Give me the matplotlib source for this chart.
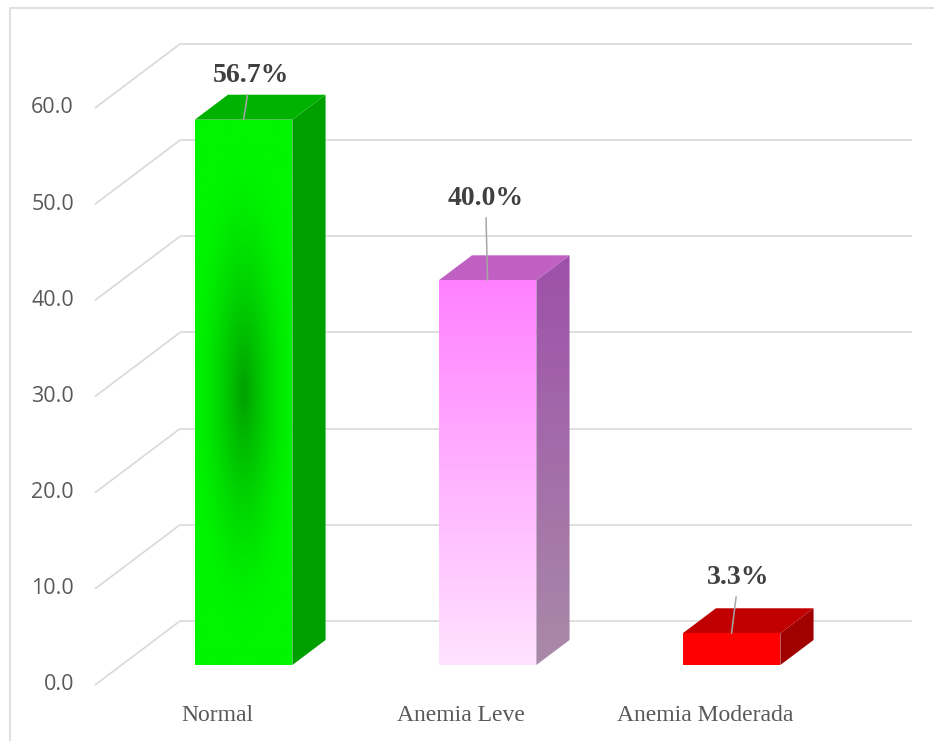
#!/usr/bin/env python3
"""
Distribucion de anemia - columnas 3D (estilo Excel) dibujadas con matplotlib.
"""

import numpy as np
import matplotlib
matplotlib.use("Agg")
import matplotlib.pyplot as plt
from matplotlib.patches import Polygon
from matplotlib.lines import Line2D

# ---------------- DATA ----------------
categories = ["Normal", "Anemia Leve", "Anemia Moderada"]
percentages = [56.7, 40.0, 3.3]
y_ticks = [0, 10, 20, 30, 40, 50, 60]
y_tick_labels = ["0.0", "10.0", "20.0", "30.0", "40.0", "50.0", "60.0"]
# --------------------------------------

# ---------------- STYLE / GEOMETRY ----------------
W, H, DPI = 934, 741, 100
PX_PER_CAT = 244.0          # horizontal pixels per category
PX_PER_VAL = 9.617          # vertical pixels per value unit
X0_PX, Y0_PX = 217.0, 685.0  # pixel position of category 0 / value 0 (front plane)

DEPTH_DX = 85 / PX_PER_CAT   # full-depth oblique shift (category units)
DEPTH_DY = 64 / PX_PER_VAL   # full-depth oblique shift (value units)
BAR_Z0, BAR_Z1 = 0.3125, 0.703  # bar front / back depth
BAR_HALF = 0.2

GRID = "#D9D9D9"
TEXT_GRAY = "#595959"
LABEL_GRAY = "#404040"
LEADER = "#A6A6A6"

# face colours per bar: (front, side, top); tuples mean a top->bottom gradient
face_colors = [
    {"front": "radial_green", "side": "#009F00", "top": "#00B200"},
    {"front": ("#FF80FF", "#FFE2FF"), "side": ("#9E50AA", "#A98AA8"), "top": "#C060C2"},
    {"front": "#FF0000", "side": "#A00000", "top": "#C00000"},
]
# manual data label placement (pixels relative to bar top)
label_offsets = [(7, 44), (-2, 82), (7, 56)]
# --------------------------------------------------


def proj(x, v, z):
    """Oblique projection: depth z in [0, 1] shifts right and up."""
    return x + z * DEPTH_DX, v + z * DEPTH_DY


def hex_rgb(c):
    return np.array(matplotlib.colors.to_rgb(c))


def gradient_fill(ax, poly, extent, img, zorder):
    ax.add_patch(poly)
    im = ax.imshow(img, extent=extent, origin="upper", aspect="auto",
                   interpolation="bilinear", zorder=zorder)
    im.set_clip_path(poly)


def vertical_gradient(c_top, c_bot, n=200):
    c_top, c_bot = hex_rgb(c_top), hex_rgb(c_bot)
    t = np.linspace(0, 1, n)[:, None, None]
    return np.repeat(c_top + (c_bot - c_top) * t, 2, axis=1)


fig = plt.figure(figsize=(W / DPI, H / DPI), dpi=DPI)
ax = fig.add_axes([0, 0, 1, 1])
ax.set_xlim(-X0_PX / PX_PER_CAT, (W - X0_PX) / PX_PER_CAT)
ax.set_ylim((Y0_PX - H) / PX_PER_VAL, Y0_PX / PX_PER_VAL)
ax.axis("off")

# chart area border (top and left edges visible)
fig.add_artist(Line2D([10 / W, 10 / W, 1.0], [0.0, 1 - 8 / H, 1 - 8 / H],
                      transform=fig.transFigure, color=GRID, lw=1.2))

# walls: diagonal side-wall lines and horizontal back-wall lines
x_left, x_right = -0.5, len(categories) - 0.5
for v in y_ticks:
    bx, bv = proj(x_left, v, 1.0)
    ax.plot([x_left, bx], [v, bv], color=GRID, lw=1.2, zorder=1,
            solid_capstyle="butt")
    ex, _ = proj(x_right, v, 1.0)
    ax.plot([bx, ex], [bv, bv], color=GRID, lw=1.2, zorder=1,
            solid_capstyle="butt")

# y tick labels
for v, lab in zip(y_ticks, y_tick_labels):
    ax.text((74 - X0_PX) / PX_PER_CAT, v, lab, ha="right", va="center",
            fontsize=15.5, color=TEXT_GRAY, family="Open Sans")

# category labels
for i, cat in enumerate(categories):
    ax.text(i, -3.2, cat, ha="center", va="center", fontsize=17,
            color=TEXT_GRAY, family="Liberation Serif")

# bars
for i, (val, fc) in enumerate(zip(percentages, face_colors)):
    fx0, fv0 = proj(i - BAR_HALF, 0, BAR_Z0)
    fx1, _ = proj(i + BAR_HALF, 0, BAR_Z0)
    fv1 = fv0 + val
    ddx = (BAR_Z1 - BAR_Z0) * DEPTH_DX
    ddy = (BAR_Z1 - BAR_Z0) * DEPTH_DY

    front_pts = [(fx0, fv0), (fx1, fv0), (fx1, fv1), (fx0, fv1)]
    side_pts = [(fx1, fv0), (fx1 + ddx, fv0 + ddy), (fx1 + ddx, fv1 + ddy), (fx1, fv1)]
    top_pts = [(fx0, fv1), (fx1, fv1), (fx1 + ddx, fv1 + ddy), (fx0 + ddx, fv1 + ddy)]

    # side face
    if isinstance(fc["side"], tuple):
        poly = Polygon(side_pts, closed=True, facecolor="none", edgecolor="none", zorder=3)
        gradient_fill(ax, poly, [fx1, fx1 + ddx, fv0, fv1 + ddy],
                      vertical_gradient(*fc["side"]), 3)
    else:
        ax.add_patch(Polygon(side_pts, closed=True, facecolor=fc["side"],
                             edgecolor="none", zorder=3))

    # top face
    ax.add_patch(Polygon(top_pts, closed=True, facecolor=fc["top"],
                         edgecolor="none", zorder=3))

    # front face
    if fc["front"] == "radial_green":
        # soft elliptical darkening in the middle of the face
        u = np.linspace(0, 1, 120)[None, :]
        w = np.linspace(0, 1, 400)[:, None]
        d = np.sqrt(((u - 0.5) / 0.55) ** 2 + ((w - 0.5) / 0.45) ** 2)
        dark = np.clip(1 - d, 0, 1) ** 1.6
        bright, deep = hex_rgb("#00F500"), hex_rgb("#00A000")
        img = bright + (deep - bright) * dark[..., None]
        poly = Polygon(front_pts, closed=True, facecolor="none", edgecolor="none", zorder=4)
        gradient_fill(ax, poly, [fx0, fx1, fv0, fv1], img, 4)
    elif isinstance(fc["front"], tuple):
        poly = Polygon(front_pts, closed=True, facecolor="none", edgecolor="none", zorder=4)
        gradient_fill(ax, poly, [fx0, fx1, fv0, fv1],
                      vertical_gradient(*fc["front"]), 4)
    else:
        ax.add_patch(Polygon(front_pts, closed=True, facecolor=fc["front"],
                             edgecolor="none", zorder=4))

    # data label with leader line to the top of the front face
    ox, oy = label_offsets[i]
    ax.annotate(f"{val:.1f}%", xy=(i + BAR_Z0 * DEPTH_DX, fv1),
                xytext=(ox, oy), textcoords="offset pixels",
                ha="center", va="center", fontsize=20, fontweight="bold",
                color=LABEL_GRAY, family="Liberation Serif", zorder=6,
                arrowprops=dict(arrowstyle="-", color=LEADER, lw=1.1,
                                shrinkA=3, shrinkB=0))

fig.savefig("out.png", dpi=DPI, facecolor="white")
